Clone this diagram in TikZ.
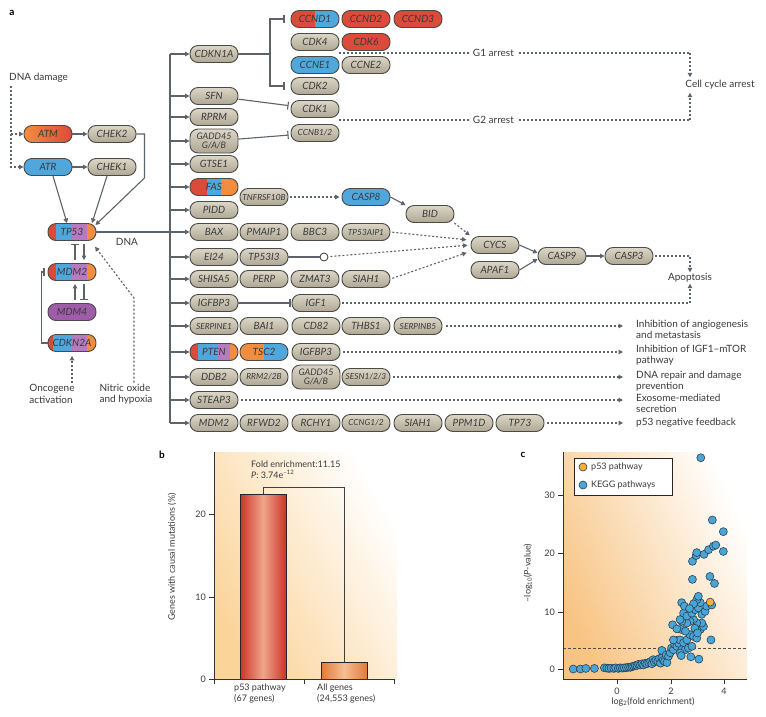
\documentclass[tikz,border=0pt]{standalone}
\usepackage{fontspec}
\setmainfont{Lato}
\usetikzlibrary{arrows.meta,calc}
\definecolor{cline}{HTML}{5C636B}
\definecolor{cborder}{HTML}{4A4A46}
\definecolor{cbA}{HTML}{DCD6C7}
\definecolor{cbB}{HTML}{AEA793}
\definecolor{cred}{HTML}{DC4A3A}
\definecolor{corange}{HTML}{F28D3F}
\definecolor{cblue}{HTML}{4FA7DB}
\definecolor{cpurple}{HTML}{B57BBE}
\definecolor{cpurpleB}{HTML}{9E5CA9}
\definecolor{ctext}{HTML}{3A3A3A}
\definecolor{cbg}{HTML}{FBD49A}
\definecolor{cbgc}{HTML}{F8C483}
\definecolor{barR}{HTML}{CC3328}
\definecolor{barRl}{HTML}{F0A68A}
\definecolor{barO}{HTML}{E27A36}
\definecolor{barOl}{HTML}{F6BE94}
\definecolor{dotblue}{HTML}{49A6D6}
\definecolor{dotorange}{HTML}{F4B036}
\definecolor{dotedge}{HTML}{2C4257}
\newcommand\gband[3]{\fill[#3, sharp corners] ($(path picture bounding box.south west)!#1!(path picture bounding box.south east)$) rectangle ($(path picture bounding box.north west)!#2!(path picture bounding box.north east)$);}
\newcommand\genefont{\fontsize{10}{11}\selectfont\itshape}
\newcommand\genesmall{\fontsize{8.4}{9}\selectfont\itshape}
\begin{document}
\begin{tikzpicture}[x=1pt,y=-1pt,
  gbase/.style={draw=cborder, line width=0.9pt, rounded corners=8pt, minimum width=48pt, minimum height=17pt, inner sep=0pt, font=\genefont, text=ctext},
  gb/.style={gbase, top color=cbA, bottom color=cbB},
  gtall/.style={gb, minimum height=24pt, align=center, font=\fontsize{9}{9.2}\selectfont\itshape},
  lab/.style={font=\fontsize{10}{11.5}\selectfont, text=ctext, inner sep=1pt},
  slab/.style={font=\fontsize{9}{10.5}\selectfont, text=ctext, inner sep=1pt},
  line/.style={draw=cline, line width=1.1pt},
  arr/.style={line, -{Triangle[length=4.5pt,width=4.5pt]}},
  inh/.style={line, -{Bar[width=8pt]}},
  dot/.style={line, dash pattern=on 2pt off 2pt},
  darr/.style={dot, -{Triangle[length=4.5pt,width=4.5pt]}},
  axis/.style={draw=black!80, line width=0.8pt},
  pt/.style={fill=dotblue, draw=dotedge, line width=0.6pt}
]
\useasboundingbox (0,0) rectangle (766,716);
\fill[white] (0,0) rectangle (766,716);

% ---------- panel labels
\node[font=\bfseries\fontsize{10}{12}\selectfont] (la) at (12,13) {a};
\node[font=\bfseries\fontsize{10}{12}\selectfont] (lbb) at (162,455) {b};
\node[font=\bfseries\fontsize{10}{12}\selectfont] (lcc) at (523,455) {c};

% ---------- left part
\node[lab, anchor=west] (dnad) at (8,78) {DNA damage};
\node[gbase, left color=corange, right color=cred] (ATM) at (48,134) {ATM};
\node[gb] (CHEK2) at (112,134) {CHEK2};
\node[gbase, fill=cblue] (ATR) at (48,167) {ATR};
\node[gb] (CHEK1) at (112,167) {CHEK1};
\node[gbase, path picture={\gband{0}{0.17}{cred}\gband{0.17}{0.5}{cblue}\gband{0.5}{0.82}{cpurple}\gband{0.82}{1}{corange}}] (TP53) at (72,232) {TP53};
\node[gbase, path picture={\gband{0}{0.17}{cred}\gband{0.17}{0.5}{cblue}\gband{0.5}{0.82}{cpurple}\gband{0.82}{1}{corange}}] (MDMa) at (72,272) {MDM2};
\node[gbase, fill=cpurpleB] (MDM4) at (72,312) {MDM4};
\node[gbase, path picture={\gband{0}{0.1}{cred}\gband{0.1}{0.48}{cblue}\gband{0.48}{0.82}{cpurple}\gband{0.82}{1}{corange}}] (CDKN2A) at (72,343) {CDKN2A};
\node[lab, align=left] (onc) at (52,394) {Oncogene\\activation};
\node[lab, align=left] (nit) at (126,394) {Nitric oxide\\and hypoxia};
\node[lab] (dnalab) at (127,242) {DNA};

\coordinate (ddtop) at (11,86);
\draw[darr] (ddtop) |- (ATR.west);
\draw[darr] (ddtop |- ATM) -- (ATM.west);
\draw[arr] (ATM) -- (CHEK2);
\draw[arr] (ATR) -- (CHEK1);
\draw[arr] ([xshift=5pt]ATR.south) -- ([xshift=-5pt]TP53.north);
\draw[arr] ([xshift=-5pt]CHEK1.south) -- ([xshift=20pt]TP53.north);
\draw[arr] (CHEK2.east) -- ++(8,0) -- ++(0,44) -- ([shift={(-1,2)}]TP53.north east);
\draw[inh, shorten <=3pt, shorten >=3pt] ([xshift=3pt]MDMa.north) -- ([xshift=3pt]TP53.south);
\draw[arr, shorten <=3pt, shorten >=3pt] ([xshift=12pt]TP53.south) -- ([xshift=12pt]MDMa.north);
\draw[arr, shorten <=3pt, shorten >=3pt] ([xshift=3pt]MDM4.north) -- ([xshift=3pt]MDMa.south);
\draw[inh, shorten <=3pt, shorten >=3pt] ([xshift=12pt]MDMa.south) -- ([xshift=12pt]MDM4.north);
\draw[inh, shorten >=3pt] (CDKN2A.west) -- ++(-6,0) |- (MDMa.west);
\draw[darr, shorten >=4pt] (CDKN2A.south |- onc.north) -- (CDKN2A.south);
\coordinate (nitc) at (134,298);
\draw[darr, shorten >=1pt] (nit.north -| nitc) -- (nitc) -- ([shift={(-2,5)}]TP53.south east);

% ---------- main column
\node[gb] (CDKN1A) at (214,54) {CDKN1A};
\node[gb] (SFN) at (214,96) {SFN};
\node[gb] (RPRM) at (214,117) {RPRM};
\node[gtall] (GADDa) at (214,141) {GADD45\\G/A/B};
\node[gb] (GTSE1) at (214,164) {GTSE1};
\node[gbase, path picture={\gband{0}{0.35}{cred}\gband{0.35}{0.65}{cblue}\gband{0.65}{1}{corange}}] (FAS) at (214,187) {FAS};
\node[gb] (PIDD) at (214,210) {PIDD};
\node[gb] (BAX) at (214,232) {BAX};
\node[gb] (EI24) at (214,257) {EI24};
\node[gb] (SHISA5) at (214,279) {SHISA5};
\node[gb] (IGFBPa) at (214,303) {IGFBP3};
\node[gb, font=\genesmall] (SERPINE1) at (214,326) {SERPINE1};
\node[gbase, path picture={\gband{0}{0.17}{cred}\gband{0.17}{0.58}{cblue}\gband{0.58}{0.84}{cpurple}\gband{0.84}{1}{corange}}] (PTEN) at (214,352) {PTEN};
\node[gb] (DDB2) at (214,377) {DDB2};
\node[gb] (STEAP3) at (214,400) {STEAP3};
\node[gb] (MDMb) at (214,423) {MDM2};

\coordinate (bt) at (170,54);
\coordinate (bb) at (170,423);
\draw[line] (bt) -- (bb);
\foreach \n in {CDKN1A,SFN,RPRM,GADDa,GTSE1,FAS,PIDD,EI24,SHISA5,IGFBPa,SERPINE1,PTEN,DDB2,STEAP3,MDMb}
  \draw[arr] (bt |- \n) -- (\n.west);
\draw[arr] (TP53) -- (BAX);

% ---------- cell cycle
\node[gbase, path picture={\gband{0}{0.5}{cred}\gband{0.5}{1}{cblue}}] (CCND1) at (315,19) {CCND1};
\node[gbase, fill=cred] (CCND2) at (366,19) {CCND2};
\node[gbase, fill=cred] (CCND3) at (418,19) {CCND3};
\node[gb] (CDK4) at (315,42) {CDK4};
\node[gbase, fill=cred] (CDK6) at (366,42) {CDK6};
\node[gbase, fill=cblue] (CCNE1) at (315,65) {CCNE1};
\node[gb] (CCNE2) at (366,65) {CCNE2};
\node[gb] (CDK2) at (315,86) {CDK2};
\node[gb] (CDK1) at (315,109) {CDK1};
\node[gb, font=\genesmall] (CCNB) at (315,133) {CCNB1/2};

\coordinate (cj) at (270,54);
\draw[line] (CDKN1A) -- (cj);
\draw[inh, shorten >=6pt] (cj) |- (CCND1);
\draw[inh, shorten >=6pt] (cj) |- (CDK2);
\draw[inh, shorten >=2pt] (SFN) -- (CDK1);
\draw[inh, shorten >=2pt] (GADDa) -- (CCNB);

\node[lab] (cca) at (720,85) {Cell cycle arrest};
\coordinate (g1s) at (339,53);
\coordinate (g1e) at (690,53);
\coordinate (g2s) at (339,120);
\coordinate (g2e) at (690,120);
\draw[dot] (g1s) -- node[lab, fill=white, inner xsep=3pt, pos=0.44] {G1 arrest} (g1e);
\draw[dot] (g2s) -- node[lab, fill=white, inner xsep=3pt, pos=0.44] {G2 arrest} (g2e);
\draw[darr, shorten >=2pt] (g1e) -- (g1e |- cca.north);
\draw[darr, shorten >=2pt] (g2e) -- (g2e |- cca.south);

% ---------- apoptosis
\node[gb, font=\genesmall] (TNF) at (264,197) {TNFRSF10B};
\node[gbase, fill=cblue] (CASP8) at (366,197) {CASP8};
\node[gb] (BID) at (430,214) {BID};
\node[gb] (PMAIP1) at (264,232) {PMAIP1};
\node[gb] (BBC3) at (315,232) {BBC3};
\node[gb, font=\genesmall] (TP53AIP1) at (366,232) {TP53AIP1};
\node[gb] (TP53I3) at (264,257) {TP53I3};
\node[circle, draw=cborder, fill=white, line width=0.9pt, minimum size=8pt, inner sep=0pt] (circ) at (324,257) {};
\node[gb] (PERP) at (264,279) {PERP};
\node[gb] (ZMAT3) at (315,279) {ZMAT3};
\node[gb] (SIAHa) at (366,279) {SIAH1};
\node[gb] (IGF1) at (316,303) {IGF1};
\node[gb] (CYCS) at (495,245) {CYCS};
\node[gb] (APAF1) at (495,270) {APAF1};
\node[gb] (CASP9) at (562,256) {CASP9};
\node[gb] (CASP3) at (629,256) {CASP3};
\node[lab] (apo) at (690,278) {Apoptosis};

\draw[darr, shorten <=2pt, shorten >=2pt] (TNF) -- (CASP8);
\draw[arr] (CASP8.east) -- (BID.north west);
\draw[darr, shorten >=1pt] (BID.south east) -- (CYCS.north west);
\draw[darr, shorten <=2pt, shorten >=2pt] (TP53AIP1.east) -- ([shift={(-2,-5)}]CYCS.west);
\draw[line] (TP53I3) -- (circ);
\draw[darr, shorten <=2pt, shorten >=3pt] (circ) -- (CYCS.west);
\draw[darr, shorten <=2pt, shorten >=2pt] (SIAHa.east) -- ([shift={(-2,7)}]CYCS.west);
\draw[arr] (CYCS.east) -- ([shift={(0,-3)}]CASP9.west);
\draw[arr] (APAF1.east) -- ([shift={(0,3)}]CASP9.west);
\draw[arr] (CASP9) -- (CASP3);
\draw[darr, shorten <=2pt] (CASP3.east) -| (apo.north);
\draw[darr, shorten <=2pt] (IGF1.east) -| (apo.south);
\draw[inh, shorten >=1pt] (IGFBPa) -- (IGF1);

% ---------- lower rows
\node[gb] (BAI1) at (264,326) {BAI1};
\node[gb] (CD82) at (316,326) {CD82};
\node[gb] (THBS1) at (366,326) {THBS1};
\node[gb, font=\genesmall] (SERPINB5) at (418,326) {SERPINB5};
\node[gbase, path picture={\gband{0}{0.5}{corange}\gband{0.5}{1}{cblue}}] (TSC2) at (264,352) {TSC2};
\node[gb] (IGFBPb) at (316,352) {IGFBP3};
\node[gb, font=\genesmall] (RRM2) at (264,377) {RRM2/2B};
\node[gtall] (GADDb) at (316,377) {GADD45\\G/A/B};
\node[gb, font=\genesmall] (SESN) at (366,377) {SESN1/2/3};
\node[gb] (RFWD2) at (264,423) {RFWD2};
\node[gb] (RCHY1) at (316,423) {RCHY1};
\node[gb, font=\genesmall] (CCNG) at (366,423) {CCNG1/2};
\node[gb] (SIAHb) at (418,423) {SIAH1};
\node[gb] (PPM1D) at (469,423) {PPM1D};
\node[gb] (TP73) at (520,423) {TP73};

\coordinate (e1) at (623,326);
\coordinate (e2) at (623,352);
\coordinate (e3) at (623,377);
\coordinate (e4) at (623,400);
\coordinate (e5) at (623,423);
\node[lab, anchor=north west, align=left] (o1) at (635,318.5) {Inhibition of angiogenesis\\and metastasis};
\node[lab, anchor=north west, align=left] (o2) at (635,343.5) {Inhibition of IGF1–mTOR\\pathway};
\node[lab, anchor=north west, align=left] (o3) at (635,369.5) {DNA repair and damage\\prevention};
\node[lab, anchor=north west, align=left] (o4) at (635,392.5) {Exosome-mediated\\secretion};
\node[lab, anchor=north west, align=left] (o5) at (635,416.5) {p53 negative feedback};
\draw[darr, shorten <=4pt] (SERPINB5) -- (e1);
\draw[darr, shorten <=3pt] (IGFBPb) -- (e2);
\draw[darr, shorten <=3pt] (SESN) -- (e3);
\draw[darr, shorten <=3pt] (STEAP3) -- (e4);
\draw[darr, shorten <=3pt] (TP73) -- (e5);

% ---------- panel b
\shade[top color=white, bottom color=cbg, shading angle=-60] (214,452) rectangle (397,679);
\shadedraw[draw=black!85, line width=0.8pt, left color=barR, right color=barR, middle color=barRl] (240,679) rectangle (286,494);
\shadedraw[draw=black!85, line width=0.8pt, left color=barO, right color=barO, middle color=barOl] (321,679) rectangle (367,662);
\draw[draw=black!75, line width=0.8pt] (263,494) -- (263,487) -- (344,487) -- (344,662);
\draw[axis] (214,452) -- (214,679) -- (394,679);
\foreach \xx in {214,304,394} \draw[axis] (\xx,679) -- (\xx,684);
\foreach \yy/\tl in {679/0,597/10,514/20} {
  \draw[axis] (209,\yy) -- (214,\yy);
  \node[slab, anchor=east] at (207,\yy) {\tl};
}
\node[slab, rotate=90] (ylb) at (172,557) {Genes with causal mutations (\%)};
\node[slab, anchor=west] (fe) at (250,464) {Fold enrichment:11.15};
\node[slab, anchor=west] (pv) at (250,474.5) {\textit{P}: 3.74e\textsuperscript{–12}};
\node[slab, anchor=north west, align=left] (xb1) at (233,683) {p53 pathway\\(67 genes)};
\node[slab, anchor=north west, align=left] (xb2) at (316,683) {All genes\\(24,553 genes)};

% ---------- panel c
\shade[top color=white, bottom color=cbgc, shading angle=-65] (563,452) rectangle (747,679);
\draw[draw=black!70, line width=0.8pt, dash pattern=on 3pt off 2pt] (563,648) -- (747,648);
\begin{scope}[shift={(617,669)}, x=26.85pt, y=5.82pt]
\foreach \a/\b in {-1.63/0,-1.36/0,-1.16/0.1,-0.84/0.1,-0.47/0.2,-0.38/0.15,-0.3/0.1,-0.22/0.15,-0.12/0.1,-0.05/0.2,0.05/0.1,0.12/0.2,0.2/0.15,0.27/0.2,0.35/0.25,0.43/0.3,0.5/0.3,0.56/0.4,0.62/0.5,0.68/0.6,0.74/0.6,0.8/0.8,0.87/0.7,0.93/0.9,0.99/0.7,1.05/1.0,1.11/0.9,1.18/1.1,1.25/1.3,1.3/0.9,1.35/1.6,1.39/1.2,1.45/1.5,1.52/1.3,1.58/1.8,1.62/1.0,1.67/1.9,1.67/3.2,1.72/1.5,1.77/1.3,1.83/2.4,1.86/1.1,1.92/2.2,1.98/2.8,2.03/3.6,2.1/3.3,2.15/4.2,2.23/3.9,2.23/4.9,2.3/4.4,2.35/5.0,2.48/4.5,2.41/3.3,2.54/3.3,2.66/3.6,2.79/3.9,2.35/2.75,2.39/2.3,2.75/2.1,3.05/1.7,2.6/5.0,2.72/5.9,2.85/5.6,2.97/5.3,3.1/6.8,3.22/7.3,3.16/7.9,2.97/7.9,2.85/8.5,2.72/8.2,2.6/7.9,2.41/8.2,2.35/8.5,2.48/9.6,2.6/9.1,2.79/9.6,2.91/10.2,3.03/10.5,3.16/9.4,3.28/9.9,3.34/10.8,3.1/11.4,2.97/11.9,2.85/11.2,2.41/11.4,2.51/10.8,2.07/7.6,2.39/6.8,2.23/6.9,2.55/6.5,2.1/5.0,3.5/5.0,2.9/7.0,3.0/6.2,2.7/10.4,3.03/12.5,3.53/11.0,2.81/15.4,3.46/15.9,3.63/14.7,2.81/18.5,2.95/19.5,2.97/20.0,3.24/19.7,3.41/20.5,3.59/21.1,3.68/21.3,3.96/20.2,3.96/23.6,3.55/25.6,3.12/36.3}
  \filldraw[pt] (\a,\b) circle[radius=4pt];
\filldraw[pt, fill=dotorange] (3.47,11.5) circle[radius=4pt];
\end{scope}
\draw[axis] (563,452) -- (563,679) -- (747,679);
\foreach \xx/\tl in {617/0,671/2,724/4} {
  \draw[axis] (\xx,679) -- (\xx,684);
  \node[slab] at (\xx,691) {\tl};
}
\foreach \yy/\tl in {669/0,612/10,553/20,495/30} {
  \draw[axis] (558,\yy) -- (563,\yy);
  \node[slab, anchor=east] at (556,\yy) {\tl};
}
\draw[fill=white, draw=black!85, line width=0.8pt] (574,458) rectangle (672,495);
\filldraw[pt, fill=dotorange] (583,467) circle[radius=4pt];
\node[slab, anchor=west] (lg1) at (590,467) {p53 pathway};
\filldraw[pt] (583,485) circle[radius=4pt];
\node[slab, anchor=west] (lg2) at (590,485) {KEGG pathways};
\node[slab, rotate=90] (ylc) at (528,573) {–log\textsubscript{10}(\textit{P}-value)};
\node[slab] (xlc) at (653,702) {log\textsubscript{2}(fold enrichment)};
\end{tikzpicture}
\end{document}
